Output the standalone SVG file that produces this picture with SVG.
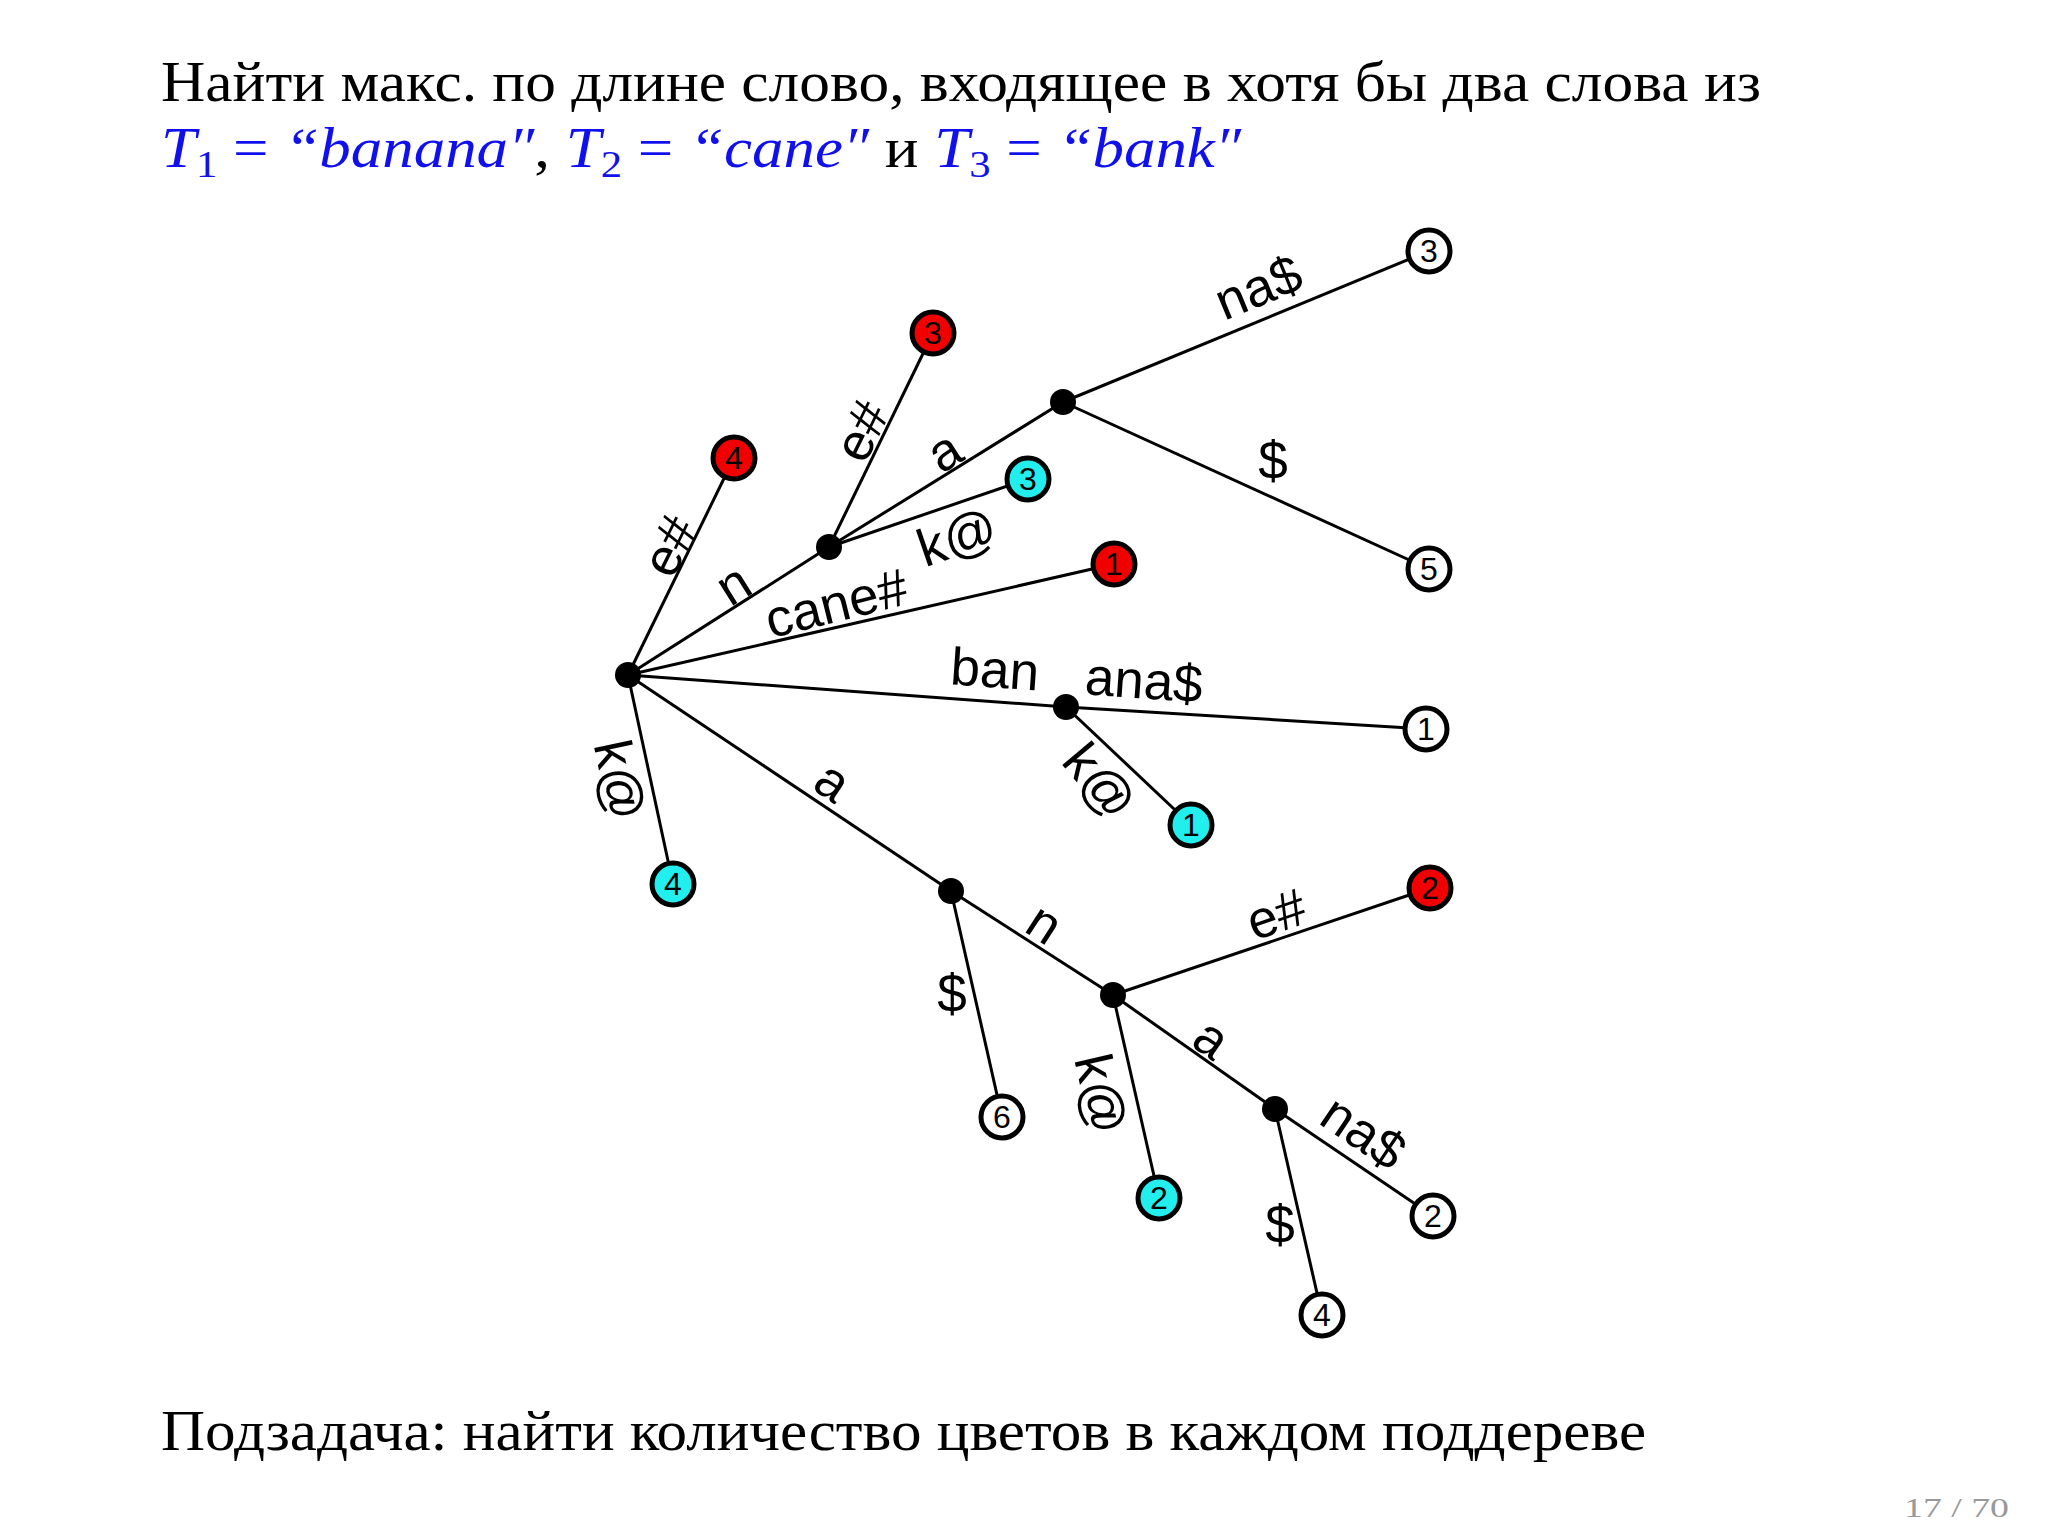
<svg xmlns="http://www.w3.org/2000/svg" width="2048" height="1536" viewBox="0 0 2048 1536">
<style>
.t{font-family:"Liberation Serif","DejaVu Serif",serif;font-size:56px;fill:#000}
.m{fill:#1010ee}
.i{font-style:italic}
.e{stroke:#000;stroke-width:3;fill:none}
.lbl{font-family:"Liberation Sans",Arial,sans-serif;font-size:53px;fill:#000;text-anchor:middle;dominant-baseline:central}
.leaf{stroke:#000;stroke-width:5}
.w{fill:#fff}.r{fill:#f00000}.c{fill:#22eeee}
.num{font-family:"Liberation Sans",Arial,sans-serif;font-size:32px;fill:#000;text-anchor:middle;dominant-baseline:central}
.dot{fill:#000}
</style>
<rect width="2048" height="1536" fill="#fff"/>
<text class="t" x="161" y="101" textLength="1600" lengthAdjust="spacingAndGlyphs">Найти макс. по длине слово, входящее в хотя бы два слова из</text>
<text class="t" x="161" y="167" textLength="1080" lengthAdjust="spacingAndGlyphs"><tspan class="m i">T</tspan><tspan class="m" font-size="38" dy="10">1</tspan><tspan class="m" dy="-10"> = </tspan><tspan class="m i">“banana″</tspan>, <tspan class="m i">T</tspan><tspan class="m" font-size="38" dy="10">2</tspan><tspan class="m" dy="-10"> = </tspan><tspan class="m i">“cane″</tspan> и <tspan class="m i">T</tspan><tspan class="m" font-size="38" dy="10">3</tspan><tspan class="m" dy="-10"> = </tspan><tspan class="m i">“bank″</tspan></text>
<g id="connectors">
<line class="e" x1="628" y1="675" x2="829" y2="547"/>
<line class="e" x1="829" y1="547" x2="1063" y2="402"/>
<line class="e" x1="1063" y1="402" x2="1429" y2="251"/>
<line class="e" x1="1063" y1="402" x2="1429" y2="569"/>
<line class="e" x1="628" y1="675" x2="734" y2="458"/>
<line class="e" x1="829" y1="547" x2="933" y2="333"/>
<line class="e" x1="829" y1="547" x2="1028" y2="479"/>
<line class="e" x1="628" y1="675" x2="1114" y2="564"/>
<line class="e" x1="628" y1="675" x2="1066" y2="707"/>
<line class="e" x1="1066" y1="707" x2="1426" y2="729"/>
<line class="e" x1="1066" y1="707" x2="1191" y2="825"/>
<line class="e" x1="628" y1="675" x2="673" y2="884"/>
<line class="e" x1="628" y1="675" x2="951" y2="891"/>
<line class="e" x1="951" y1="891" x2="1113" y2="995"/>
<line class="e" x1="951" y1="891" x2="1002" y2="1117"/>
<line class="e" x1="1113" y1="995" x2="1430" y2="888"/>
<line class="e" x1="1113" y1="995" x2="1159" y2="1198"/>
<line class="e" x1="1113" y1="995" x2="1275" y2="1109"/>
<line class="e" x1="1275" y1="1109" x2="1433" y2="1216"/>
<line class="e" x1="1275" y1="1109" x2="1322" y2="1315"/>
</g>
<g id="edge-labels">
<text class="lbl" transform="translate(1258,287) rotate(-22.4)">na$</text>
<text class="lbl" transform="translate(1273,460)">$</text>
<text class="lbl" transform="translate(944,451) rotate(-32)">a</text>
<text class="lbl" transform="translate(861,431) rotate(-64)">e#</text>
<text class="lbl" transform="translate(957,537) rotate(-19)">k@</text>
<text class="lbl" transform="translate(836,603) rotate(-14)">cane#</text>
<text class="lbl" transform="translate(733,584) rotate(-32)">n</text>
<text class="lbl" transform="translate(669,546) rotate(-64)">e#</text>
<text class="lbl" transform="translate(995,669) rotate(4)">ban</text>
<text class="lbl" transform="translate(1144,680) rotate(4)">ana$</text>
<text class="lbl" transform="translate(1100,781) rotate(50)">k@</text>
<text class="lbl" transform="translate(620,780) rotate(78)">k@</text>
<text class="lbl" transform="translate(833,781) rotate(34)">a</text>
<text class="lbl" transform="translate(1045,923) rotate(33)">n</text>
<text class="lbl" transform="translate(952,993)">$</text>
<text class="lbl" transform="translate(1276,914) rotate(-19)">e#</text>
<text class="lbl" transform="translate(1101,1094) rotate(77)">k@</text>
<text class="lbl" transform="translate(1212,1038) rotate(35)">a</text>
<text class="lbl" transform="translate(1364,1132) rotate(34)">na$</text>
<text class="lbl" transform="translate(1280,1224)">$</text>
</g>
<g id="root"><circle class="dot" cx="628" cy="675" r="13"/></g>
<g id="node-n"><circle class="dot" cx="829" cy="547" r="13"/></g>
<g id="node-na"><circle class="dot" cx="1063" cy="402" r="13"/></g>
<g id="node-ban"><circle class="dot" cx="1066" cy="707" r="13"/></g>
<g id="node-a"><circle class="dot" cx="951" cy="891" r="13"/></g>
<g id="node-an"><circle class="dot" cx="1113" cy="995" r="13"/></g>
<g id="node-ana"><circle class="dot" cx="1275" cy="1109" r="13"/></g>
<g id="leaf-w3"><circle class="leaf w" cx="1429" cy="251" r="21"/><text class="num" x="1429" y="251">3</text></g>
<g id="leaf-w5"><circle class="leaf w" cx="1429" cy="569" r="21"/><text class="num" x="1429" y="569">5</text></g>
<g id="leaf-r4"><circle class="leaf r" cx="734" cy="458" r="21"/><text class="num" x="734" y="458">4</text></g>
<g id="leaf-r3"><circle class="leaf r" cx="933" cy="333" r="21"/><text class="num" x="933" y="333">3</text></g>
<g id="leaf-c3"><circle class="leaf c" cx="1028" cy="479" r="21"/><text class="num" x="1028" y="479">3</text></g>
<g id="leaf-r1"><circle class="leaf r" cx="1114" cy="564" r="21"/><text class="num" x="1114" y="564">1</text></g>
<g id="leaf-w1"><circle class="leaf w" cx="1426" cy="729" r="21"/><text class="num" x="1426" y="729">1</text></g>
<g id="leaf-c1"><circle class="leaf c" cx="1191" cy="825" r="21"/><text class="num" x="1191" y="825">1</text></g>
<g id="leaf-c4"><circle class="leaf c" cx="673" cy="884" r="21"/><text class="num" x="673" y="884">4</text></g>
<g id="leaf-w6"><circle class="leaf w" cx="1002" cy="1117" r="21"/><text class="num" x="1002" y="1117">6</text></g>
<g id="leaf-r2"><circle class="leaf r" cx="1430" cy="888" r="21"/><text class="num" x="1430" y="888">2</text></g>
<g id="leaf-c2"><circle class="leaf c" cx="1159" cy="1198" r="21"/><text class="num" x="1159" y="1198">2</text></g>
<g id="leaf-w2"><circle class="leaf w" cx="1433" cy="1216" r="21"/><text class="num" x="1433" y="1216">2</text></g>
<g id="leaf-w4"><circle class="leaf w" cx="1322" cy="1315" r="21"/><text class="num" x="1322" y="1315">4</text></g>
<text class="t" x="161" y="1450" textLength="1485" lengthAdjust="spacingAndGlyphs">Подзадача: найти количество цветов в каждом поддереве</text>
<text x="1904" y="1517" font-family="Liberation Serif,serif" font-size="28" fill="#999" textLength="105" lengthAdjust="spacingAndGlyphs">17 / 70</text>
</svg>
